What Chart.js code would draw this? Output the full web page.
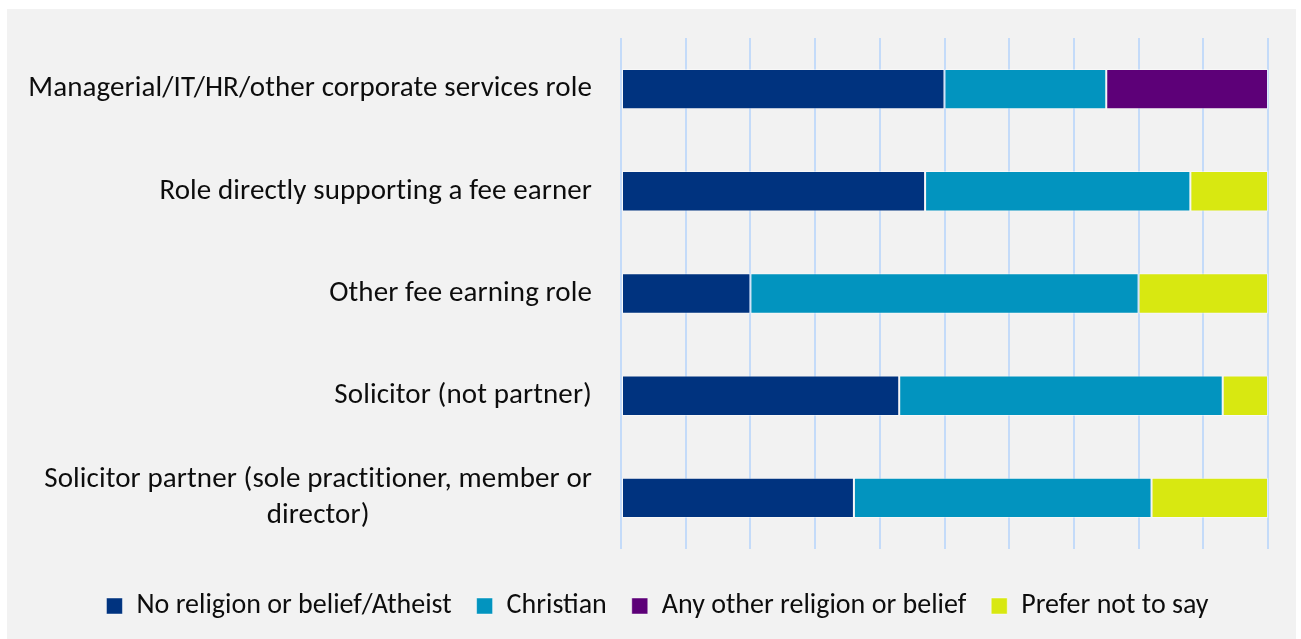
<!DOCTYPE html>
<html>
<head>
<meta charset="utf-8">
<script src="https://cdn.jsdelivr.net/npm/chart.js@4.4.1/dist/chart.umd.min.js"></script>
<style>
    html, body { margin: 0; padding: 0; background: #ffffff; }
    #wrap {
        position: absolute;
        left: 7px;
        top: 9px;
        width: 1289px;
        height: 630px;
        background: #f2f2f2;
    }
</style>
</head>
<body>
<div id="wrap"><canvas id="chart" width="1289" height="630"></canvas></div>
<script>
// Job roles, top to bottom
const categories = [
    'Managerial/IT/HR/other corporate services role',
    'Role directly supporting a fee earner',
    'Other fee earning role',
    'Solicitor (not partner)',
    ['Solicitor partner (sole practitioner, member or', 'director)']
];

// Share of each role (%)
const noReligion = [50, 47, 20, 43, 36];
const christian = [25, 41, 60, 50, 46];
const otherReligion = [25, 0, 0, 0, 0];
const preferNotToSay = [0, 12, 20, 7, 18];

const seriesNames = ['No religion or belief/Atheist', 'Christian', 'Any other religion or belief', 'Prefer not to say'];
const seriesColors = ['#00337f', '#0294bf', '#5d0078', '#d8e811'];

const xTicks = [0, 10, 20, 30, 40, 50, 60, 70, 80, 90, 100];

const fontFamily = 'Carlito, Calibri, Lato, "Liberation Sans", sans-serif';
const labelFontSize = 29;
const labelLineHeight = 36;

// Category labels are drawn by hand so wrapped lines sit centred under each other
const categoryLabels = {
    id: 'categoryLabels',
    afterDraw(chart) {
        const { ctx } = chart;
        const yScale = chart.scales.y;
        ctx.save();
        ctx.font = `${labelFontSize}px ${fontFamily}`;
        ctx.letterSpacing = '0.1px';
        ctx.fillStyle = '#0d0d0d';
        ctx.textBaseline = 'middle';
        ctx.textAlign = 'center';
        const right = yScale.right - 29;
        categories.forEach((label, i) => {
            const lines = Array.isArray(label) ? label : [label];
            const widest = Math.max(...lines.map(l => ctx.measureText(l).width));
            const cy = yScale.getPixelForValue(i);
            lines.forEach((line, j) => {
                const ly = cy + (j - (lines.length - 1) / 2) * labelLineHeight;
                ctx.fillText(line, right - widest / 2, ly);
            });
        });
        ctx.restore();
    }
};

const datasets = [noReligion, christian, otherReligion, preferNotToSay].map((values, i) => ({
    label: seriesNames[i],
    data: values,
    backgroundColor: seriesColors[i],
    borderColor: 'rgba(255, 255, 255, 0.45)',
    borderWidth: 1,
    borderSkipped: false,
    barPercentage: 0.395,
    categoryPercentage: 1
}));

new Chart(document.getElementById('chart'), {
    type: 'bar',
    data: { labels: categories, datasets: datasets },
    options: {
        indexAxis: 'y',
        responsive: false,
        animation: false,
        layout: { padding: { top: 29, right: 28, left: 40, bottom: 9 } },
        scales: {
            x: {
                stacked: true,
                min: xTicks[0],
                max: xTicks[xTicks.length - 1],
                afterBuildTicks: (scale) => { scale.ticks = xTicks.map(v => ({ value: v })); },
                grid: { color: '#c4dbf9', lineWidth: 2, drawTicks: false },
                border: { display: false },
                ticks: { display: false },
                afterFit: (scale) => { scale.height = 18; }
            },
            y: {
                stacked: true,
                grid: { display: false },
                border: { display: false },
                ticks: { display: false },
                afterFit: (scale) => { scale.width = 574; }
            }
        },
        plugins: {
            legend: {
                position: 'bottom',
                labels: {
                    boxWidth: 16,
                    boxHeight: 16,
                    padding: 25,
                    color: '#0d0d0d',
                    font: { family: fontFamily, size: 28 }
                }
            },
            tooltip: { enabled: false }
        }
    },
    plugins: [categoryLabels]
});
</script>
</body>
</html>
